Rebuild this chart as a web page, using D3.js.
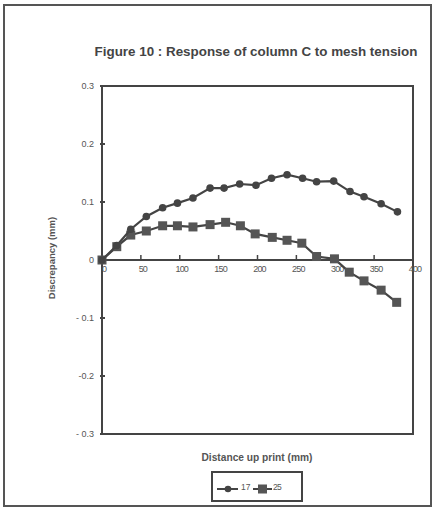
<!DOCTYPE html>
<html>
<head>
<meta charset="utf-8">
<script src="https://cdn.jsdelivr.net/npm/d3@7"></script>
<style>
  body { margin: 0; background: #fff; }
  text { font-family: "Liberation Sans", Arial, sans-serif; }
</style>
</head>
<body>
<div id="chart"></div>
<script>
// values
var xs17 = [0, 19, 37, 57, 78, 97, 117, 139, 157, 177, 198, 218, 238, 258, 276, 298, 319, 337, 359, 380];
var ys17 = [0, 0.025, 0.053, 0.075, 0.09, 0.098, 0.107, 0.124, 0.124, 0.131, 0.129, 0.141, 0.147, 0.141, 0.135, 0.136, 0.118, 0.109, 0.097, 0.083];
var xs25 = [0, 19, 37, 57, 78, 97, 117, 139, 159, 178, 197, 219, 238, 257, 276, 299, 318, 337, 359, 379];
var ys25 = [0, 0.023, 0.043, 0.05, 0.059, 0.059, 0.057, 0.061, 0.065, 0.059, 0.045, 0.039, 0.034, 0.029, 0.006, 0.002, -0.021, -0.036, -0.052, -0.073];
var xTicks = [0, 50, 100, 150, 200, 250, 300, 350, 400];
var yTicks = [-0.3, -0.2, -0.1, 0, 0.1, 0.2, 0.3];
var yTickLabels = ["- 0.3", "-0.2", "- 0.1", "0", "0.1", "0.2", "0.3"];
var seriesNames = ["17", "25"];

var width = 435, height = 509;
var ink = "#444";

var svg = d3.select("#chart").append("svg")
  .attr("width", width)
  .attr("height", height);

// outer frame
svg.append("rect")
  .attr("x", 4).attr("y", 5)
  .attr("width", 427).attr("height", 501)
  .attr("fill", "none")
  .attr("stroke", "#555")
  .attr("stroke-width", 2);

svg.append("text")
  .attr("x", 256).attr("y", 56)
  .attr("text-anchor", "middle")
  .attr("font-size", 13.4)
  .attr("font-weight", "bold")
  .attr("fill", "#444")
  .text("Figure 10 : Response of column C to mesh tension");

var x = d3.scaleLinear().domain([0, 400]).range([102, 413]);
var y = d3.scaleLinear().domain([-0.3, 0.3]).range([434, 86]);

// plot box
svg.append("rect")
  .attr("x", x(0)).attr("y", y(0.3))
  .attr("width", x(400) - x(0)).attr("height", y(-0.3) - y(0.3))
  .attr("fill", "none")
  .attr("stroke", ink)
  .attr("stroke-width", 2);

// y axis: ticks crossing the left edge, labels to the left
var yAxis = svg.append("g");
yTicks.forEach(function(v, i) {
  yAxis.append("line")
    .attr("x1", x(0) - 2).attr("x2", x(0) + 3)
    .attr("y1", y(v)).attr("y2", y(v))
    .attr("stroke", ink).attr("stroke-width", 2);
  yAxis.append("text")
    .attr("x", x(0) - 8).attr("y", y(v) + 3)
    .attr("text-anchor", "end")
    .attr("font-size", 9)
    .attr("fill", "#555")
    .text(yTickLabels[i]);
});

// x axis along zero
svg.append("line")
  .attr("x1", x(0)).attr("x2", x(400))
  .attr("y1", y(0)).attr("y2", y(0))
  .attr("stroke", ink).attr("stroke-width", 2);
var xAxis = svg.append("g");
xTicks.forEach(function(v) {
  xAxis.append("line")
    .attr("x1", x(v)).attr("x2", x(v))
    .attr("y1", y(0) - 5).attr("y2", y(0))
    .attr("stroke", ink).attr("stroke-width", 1.5);
  xAxis.append("text")
    .attr("x", x(v) + 2).attr("y", y(0) + 12)
    .attr("text-anchor", "middle")
    .attr("font-size", 9)
    .attr("letter-spacing", -0.8)
    .attr("fill", "#555")
    .text(v);
});

// axis titles
svg.append("text")
  .attr("transform", "translate(55," + 258 + ") rotate(-90)")
  .attr("text-anchor", "middle")
  .attr("font-size", 9.5)
  .attr("font-weight", "bold")
  .attr("fill", "#555")
  .text("Discrepancy (mm)");

svg.append("text")
  .attr("x", 257).attr("y", 461)
  .attr("text-anchor", "middle")
  .attr("font-size", 10.2)
  .attr("font-weight", "bold")
  .attr("fill", "#555")
  .text("Distance up print (mm)");

var line = d3.line()
  .x(function(d) { return x(d[0]); })
  .y(function(d) { return y(d[1]); });

var d17 = xs17.map(function(v, i) { return [v, ys17[i]]; });
var d25 = xs25.map(function(v, i) { return [v, ys25[i]]; });

svg.append("path").datum(d25)
  .attr("d", line)
  .attr("fill", "none").attr("stroke", ink).attr("stroke-width", 2.2);
svg.selectAll(".sq").data(d25).enter().append("rect")
  .attr("class", "sq")
  .attr("x", function(d) { return x(d[0]) - 4.5; })
  .attr("y", function(d) { return y(d[1]) - 4.5; })
  .attr("width", 9).attr("height", 9)
  .attr("fill", "#555");

svg.append("path").datum(d17)
  .attr("d", line)
  .attr("fill", "none").attr("stroke", ink).attr("stroke-width", 2.2);
svg.selectAll(".dot").data(d17).enter().append("circle")
  .attr("class", "dot")
  .attr("cx", function(d) { return x(d[0]); })
  .attr("cy", function(d) { return y(d[1]); })
  .attr("r", 3.8)
  .attr("fill", ink);

// legend
var lg = svg.append("g");
lg.append("rect")
  .attr("x", 212).attr("y", 472)
  .attr("width", 90).attr("height", 29)
  .attr("fill", "none").attr("stroke", ink).attr("stroke-width", 2);
lg.append("line")
  .attr("x1", 217).attr("x2", 238).attr("y1", 489).attr("y2", 489)
  .attr("stroke", ink).attr("stroke-width", 2);
lg.append("circle").attr("cx", 228).attr("cy", 489).attr("r", 3.3).attr("fill", ink);
lg.append("text").attr("x", 241).attr("y", 490).attr("font-size", 8.5).attr("fill", "#555").text(seriesNames[0]);
lg.append("line")
  .attr("x1", 253).attr("x2", 272).attr("y1", 489).attr("y2", 489)
  .attr("stroke", ink).attr("stroke-width", 2);
lg.append("rect").attr("x", 258).attr("y", 484.5).attr("width", 9).attr("height", 9).attr("fill", "#555");
lg.append("text").attr("x", 273).attr("y", 490).attr("font-size", 8.5).attr("letter-spacing", -0.8).attr("fill", "#555").text(seriesNames[1]);
</script>
</body>
</html>
